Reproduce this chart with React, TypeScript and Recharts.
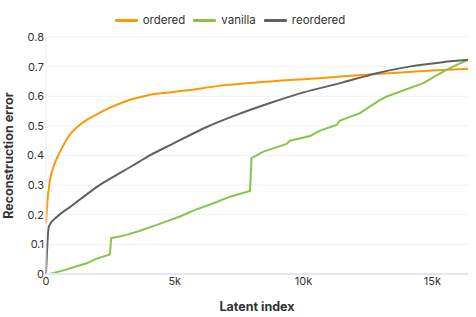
import React from "react";
import {
  LineChart,
  Line,
  XAxis,
  YAxis,
  CartesianGrid,
  Legend,
} from "recharts";

// [latent index, reconstruction error]
const ordered: [number, number][] = [
  [0, 0.17], [50, 0.24], [150, 0.315], [280, 0.36], [420, 0.39], [650, 0.43],
  [870, 0.464], [1200, 0.495], [1580, 0.52], [2000, 0.54], [2400, 0.558],
  [2800, 0.573], [3260, 0.588], [3700, 0.598], [4040, 0.605], [4800, 0.613],
  [5500, 0.62], [6700, 0.635], [8700, 0.65], [10600, 0.661], [12800, 0.675],
  [14500, 0.684], [15400, 0.689], [16384, 0.693],
];

const vanilla: [number, number][] = [
  [0, 0], [150, 0], [750, 0.014], [1060, 0.023], [1580, 0.036], [1970, 0.052],
  [2480, 0.066], [2530, 0.121], [3130, 0.132], [3650, 0.146], [4300, 0.166],
  [4810, 0.182], [5200, 0.194], [5720, 0.214], [6500, 0.239], [7140, 0.261],
  [7920, 0.28], [7980, 0.391], [8440, 0.413], [9340, 0.439], [9470, 0.45],
  [10250, 0.466], [10640, 0.484], [11280, 0.503], [11410, 0.518], [12190, 0.543],
  [12970, 0.588], [13230, 0.599], [14650, 0.644], [15420, 0.683], [15940, 0.706],
  [16384, 0.722],
];

const reordered: [number, number][] = [
  [0, 0], [110, 0.16], [440, 0.194], [960, 0.228], [1475, 0.262], [1990, 0.295],
  [2510, 0.323], [3290, 0.362], [4065, 0.402], [4840, 0.436], [5620, 0.47],
  [6135, 0.492], [7400, 0.537], [8700, 0.577], [10000, 0.613], [11500, 0.646],
  [12800, 0.677], [14100, 0.7], [15400, 0.715], [16384, 0.723],
];

const xTicks = [0, 5000, 10000, 15000];
const yTicks = [0, 0.1, 0.2, 0.3, 0.4, 0.5, 0.6, 0.7, 0.8];

const seriesNames = ["ordered", "vanilla", "reordered"];
const COLORS = ["#ff9800", "#8bc34a", "#616161"];
const CURVES: ("monotone" | "linear")[] = ["monotone", "linear", "monotone"];

const toRows = (pts: [number, number][]) => pts.map(([idx, err]) => ({ idx, err }));

const FONT = "Inter, 'Noto Sans', sans-serif";

const LegendContent = () => (
  <div
    style={{
      height: 27,
      display: "flex",
      justifyContent: "center",
      alignItems: "flex-start",
      fontFamily: FONT,
      fontSize: 11.5,
      color: "#333",
    }}
  >
    {seriesNames.map((name, i) => (
      <div
        key={name}
        style={{ display: "flex", alignItems: "center", height: 20, marginRight: 8 }}
      >
        <span
          style={{
            display: "inline-block",
            width: 23,
            height: 3,
            background: COLORS[i],
            marginRight: 5,
            borderRadius: 1,
          }}
        />
        <span>{name}</span>
      </div>
    ))}
  </div>
);

const XTick = (props: any) => {
  const { x, y, payload } = props;
  const v = payload.value as number;
  return (
    <text x={x} y={y} dy="0.71em" textAnchor="middle" fill="#333" fontSize={11}>
      {v === 0 ? "0" : `${v / 1000}k`}
    </text>
  );
};

const App = () => {
  const all = [ordered, vanilla, reordered];
  return (
    <div style={{ position: "absolute", left: 0, top: 0 }}>
      <LineChart
        width={476}
        height={317}
        margin={{ top: 10, right: 8, left: 0, bottom: 0 }}
        style={{ fontFamily: FONT }}
      >
        <CartesianGrid vertical={false} stroke="#edf1f7" />
        <XAxis
          type="number"
          dataKey="idx"
          domain={[0, 16384]}
          ticks={xTicks}
          interval={0}
          tickLine={false}
          tickSize={0}
          tickMargin={3}
          height={43}
          stroke="#e3e8f0"
          strokeWidth={2}
          tick={<XTick />}
          label={{
            value: "Latent index",
            position: "insideBottom",
            offset: 6,
            style: { fontWeight: 700, fontSize: 12.5, fill: "#333" },
          }}
        />
        <YAxis
          type="number"
          domain={[0, 0.8]}
          ticks={yTicks}
          interval={0}
          tickLine={false}
          tickSize={0}
          tickMargin={2}
          width={46}
          stroke="#e8edf4"
          tick={{ fill: "#333", fontSize: 11 }}
          label={{
            value: "Reconstruction error",
            angle: -90,
            position: "insideLeft",
            offset: 9,
            style: { textAnchor: "middle", fontWeight: 700, fontSize: 12.5, fill: "#333" },
          }}
        />
        <Legend verticalAlign="top" content={<LegendContent />} />
        {all.map((pts, i) => (
          <Line
            key={seriesNames[i]}
            data={toRows(pts)}
            dataKey="err"
            name={seriesNames[i]}
            type={CURVES[i]}
            stroke={COLORS[i]}
            strokeWidth={2}
            dot={false}
            activeDot={false}
            isAnimationActive={false}
          />
        ))}
      </LineChart>
    </div>
  );
};

export default App;
